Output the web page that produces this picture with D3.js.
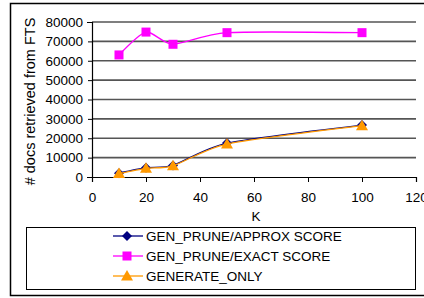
<!DOCTYPE html>
<html>
<head>
<meta charset="utf-8">
<script src="https://cdn.jsdelivr.net/npm/d3@7"></script>
<style>
  body { margin: 0; background: #fff; }
  text { font-family: "Liberation Sans", Arial, sans-serif; fill: #000; }
</style>
</head>
<body>
<script>
// values
const kValues = [10, 20, 30, 50, 100];
const approxScore = [2000, 4800, 6000, 17500, 26800];
const exactScore = [63000, 74800, 68500, 74500, 74500];
const generateOnly = [1800, 4500, 5800, 17000, 26500];
const xTicks = [0, 20, 40, 60, 80, 100, 120];
const yTicks = [0, 10000, 20000, 30000, 40000, 50000, 60000, 70000, 80000];

const series = [
  { name: "GEN_PRUNE/APPROX SCORE", values: approxScore, color: "#000080", marker: "diamond" },
  { name: "GEN_PRUNE/EXACT SCORE", values: exactScore, color: "#ff00ff", marker: "square" },
  { name: "GENERATE_ONLY", values: generateOnly, color: "#ff9900", marker: "triangle" }
];

const w = 424, h = 298;
const svg = d3.select("body").append("svg")
  .attr("width", w)
  .attr("height", h);

// outer chart border (runs off the right edge)
svg.append("rect")
  .attr("x", 10.5).attr("y", 3.5)
  .attr("width", 430).attr("height", 292)
  .attr("fill", "none")
  .attr("stroke", "#000")
  .attr("stroke-width", 1.5);

const xScale = d3.scaleLinear().domain([0, 120]).range([92, 416]);
const yScale = d3.scaleLinear().domain([0, 80000]).range([177, 22]);

// gridlines
svg.append("g").selectAll("line")
  .data(yTicks.filter(d => d > 0))
  .enter()
  .append("line")
  .attr("x1", xScale(0)).attr("x2", xScale(120))
  .attr("y1", d => yScale(d)).attr("y2", d => yScale(d))
  .attr("stroke", "#555")
  .attr("stroke-width", 1.6);

const xAxis = svg.append("g")
  .attr("transform", `translate(0,${yScale(0)})`)
  .call(d3.axisBottom(xScale).tickValues(xTicks).tickSize(5).tickPadding(10));
const yAxis = svg.append("g")
  .attr("transform", `translate(${xScale(0)},0)`)
  .call(d3.axisLeft(yScale).tickValues(yTicks).tickSize(5).tickPadding(4).tickFormat(d3.format("d")));

[xAxis, yAxis].forEach(a => {
  a.select(".domain").attr("stroke", "#000").attr("stroke-width", 1.2);
  a.selectAll(".tick line").attr("stroke", "#000");
  a.selectAll("text").style("font-size", "13.5px").attr("fill", "#000");
});
yAxis.selectAll(".tick line").attr("x2", -4);
yAxis.selectAll(".tick text").attr("x", -9);

svg.append("text")
  .attr("x", (xScale(0) + xScale(120)) / 2 + 2)
  .attr("y", 221)
  .attr("text-anchor", "middle")
  .style("font-size", "13.5px")
  .text("K");

svg.append("text")
  .attr("transform", `translate(35,${(yScale(0) + yScale(80000)) / 2 + 2}) rotate(-90)`)
  .attr("text-anchor", "middle")
  .style("font-size", "14.5px")
  .text("# docs retrieved from FTS");

const line = d3.line()
  .x(d => xScale(d[0]))
  .y(d => yScale(d[1]))
  .curve(d3.curveCardinal.tension(0.3));

function drawMarker(g, type, color, x, y) {
  if (type === "diamond") {
    g.append("path")
      .attr("d", `M${x},${y - 5}L${x + 5},${y}L${x},${y + 5}L${x - 5},${y}Z`)
      .attr("fill", color);
  } else if (type === "square") {
    g.append("rect")
      .attr("x", x - 4.5).attr("y", y - 4.5)
      .attr("width", 9).attr("height", 9)
      .attr("fill", color);
  } else {
    g.append("path")
      .attr("d", `M${x},${y - 6}L${x + 6},${y + 4.5}L${x - 6},${y + 4.5}Z`)
      .attr("fill", color);
  }
}

series.forEach(s => {
  const pts = kValues.map((k, i) => [k, s.values[i]]);
  const g = svg.append("g");
  g.append("path")
    .datum(pts)
    .attr("d", line)
    .attr("fill", "none")
    .attr("stroke", s.color)
    .attr("stroke-width", 1.3);
  pts.forEach(p => drawMarker(g, s.marker, s.color, xScale(p[0]), yScale(p[1])));
});

// legend
svg.append("rect")
  .attr("x", 26.5).attr("y", 227.5)
  .attr("width", 389).attr("height", 62)
  .attr("fill", "#fff")
  .attr("stroke", "#000")
  .attr("stroke-width", 1);

series.forEach((s, i) => {
  const y = 236 + i * 20;
  const g = svg.append("g");
  g.append("line")
    .attr("x1", 113).attr("x2", 143)
    .attr("y1", y).attr("y2", y)
    .attr("stroke", s.color)
    .attr("stroke-width", 1.3);
  drawMarker(g, s.marker, s.color, 127, y);
  g.append("text")
    .attr("x", 146).attr("y", y + 4.5)
    .style("font-size", "13.5px")
    .text(s.name);
});
</script>
</body>
</html>
